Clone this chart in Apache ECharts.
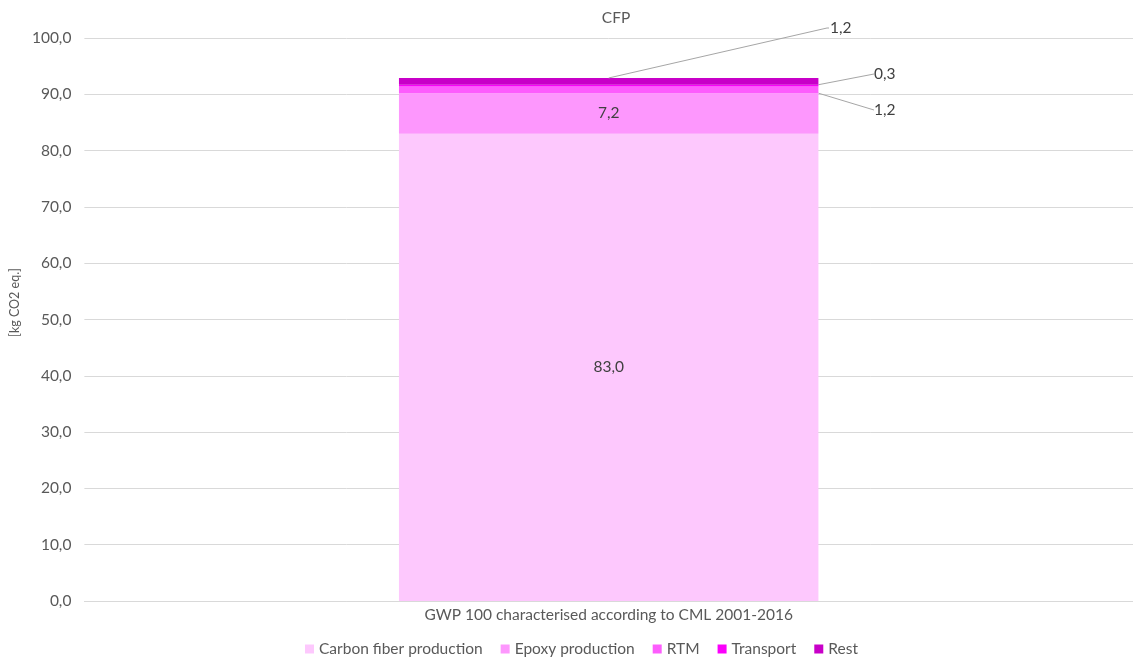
<!DOCTYPE html>
<html>
<head>
<meta charset="utf-8">
<title>CFP</title>
<script src="https://cdn.jsdelivr.net/npm/echarts@6/dist/echarts.min.js"></script>
<style>
  html, body { margin: 0; padding: 0; background: #ffffff; }
  #chart { width: 1133px; height: 658px; }
</style>
</head>
<body>
<div id="chart"></div>
<script>
// Global warming potential of the CFP part, split by process stage
const categories = ['GWP 100 characterised according to CML 2001-2016'];
const seriesNames = ['Carbon fiber production', 'Epoxy production', 'RTM', 'Transport', 'Rest'];
const carbonFiber = [83.0];
const epoxy = [7.2];
const rtm = [1.2];
const transport = [0.3];
const rest = [1.2];
const yTicks = { min: 0, max: 100, interval: 10 };

const colors = ['#fdc8fd', '#fd97fd', '#fd5dfd', '#fb00fb', '#c800c8'];
const FONT = 'Lato';
const FS = 15.5;
const TEXT = '#595959';
const GUIDE = '#a6a6a6';

const fmt = v => v.toFixed(1).replace('.', ',');

// inside labels for the large segments
const inner = { show: true, position: 'inside', color: '#404040', fontFamily: FONT, fontSize: FS,
  formatter: p => fmt(p.value) };

// labels of the thin segments are moved out to the right of the bar
const outer = (lx, ly, guide) => ({
  label: { show: true, position: 'right', color: '#404040', fontFamily: FONT, fontSize: FS,
    formatter: p => fmt(p.value) },
  labelLine: { show: guide, lineStyle: { color: GUIDE, width: 1 } },
  labelLayout: { x: lx, y: ly, align: 'left', verticalAlign: 'middle' }
});

const REST_LABEL = [830, 28];

const data = [carbonFiber, epoxy, rtm, transport, rest];
const series = seriesNames.map((name, i) => {
  const s = {
    name: name,
    type: 'bar',
    stack: 'total',
    barWidth: '40%',
    data: data[i],
    itemStyle: { color: colors[i] }
  };
  if (i < 2) s.label = inner;
  else if (i === 2) Object.assign(s, outer(874, 110, true));
  else if (i === 3) Object.assign(s, outer(874, 74, true));
  else Object.assign(s, outer(REST_LABEL[0], REST_LABEL[1], false));
  return s;
});

const chart = echarts.init(document.getElementById('chart'));
chart.setOption({
  backgroundColor: '#ffffff',
  animation: false,
  title: {
    text: 'CFP', left: 611, top: 5, textAlign: 'center',
    textStyle: { fontFamily: FONT, fontSize: FS, fontWeight: 'normal', color: TEXT }
  },
  legend: {
    top: 636, left: 300, icon: 'rect', itemWidth: 9, itemHeight: 9, itemGap: 18,
    textStyle: { fontFamily: FONT, fontSize: FS, color: TEXT },
    data: seriesNames
  },
  grid: { left: 83, right: -7, top: 38, bottom: 57, containLabel: false },
  xAxis: {
    type: 'category',
    data: categories,
    axisTick: { show: false },
    axisLine: { lineStyle: { color: '#d9d9d9' } },
    axisLabel: { fontFamily: FONT, fontSize: FS, color: TEXT, margin: 6 }
  },
  yAxis: {
    type: 'value',
    min: yTicks.min, max: yTicks.max, interval: yTicks.interval,
    name: '[kg CO2 eq.]', nameLocation: 'middle', nameGap: 55, nameRotate: 90,
    nameTextStyle: { fontFamily: FONT, fontSize: 12.5, color: TEXT, padding: [0, 0, 0, 34] },
    axisLine: { show: false }, axisTick: { show: false },
    splitLine: { lineStyle: { color: '#d9d9d9' } },
    axisLabel: { fontFamily: FONT, fontSize: FS, color: TEXT, margin: 13, formatter: v => fmt(v) }
  },
  series: series
});

// guide for the top segment runs from the middle of the stack's top edge to its label
const total = carbonFiber[0] + epoxy[0] + rtm[0] + transport[0] + rest[0];
const topMid = chart.convertToPixel({ xAxisIndex: 0, yAxisIndex: 0 }, [0, total]);
chart.setOption({
  graphic: [{
    type: 'polyline',
    shape: { points: [topMid, [REST_LABEL[0] - 3, REST_LABEL[1]], [REST_LABEL[0] - 1, REST_LABEL[1]]] },
    style: { stroke: GUIDE, lineWidth: 1, fill: null },
    silent: true,
    z: 10
  }]
});
</script>
</body>
</html>
